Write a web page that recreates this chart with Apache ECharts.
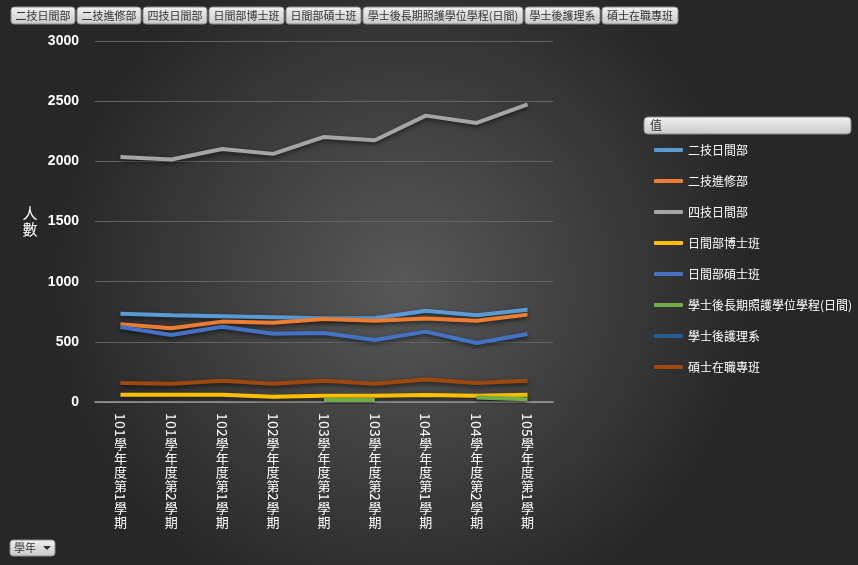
<!DOCTYPE html>
<html>
<head>
<meta charset="utf-8">
<script src="https://cdn.jsdelivr.net/npm/echarts@6/dist/echarts.min.js"></script>
<style>
html,body{margin:0;padding:0;background:#2a2a2a;}
#c{width:858px;height:565px;}
</style>
</head>
<body>
<div id="c"></div>
<script>
const categories = ['101學年度第1學期','101學年度第2學期','102學年度第1學期','102學年度第2學期','103學年度第1學期','103學年度第2學期','104學年度第1學期','104學年度第2學期','105學年度第1學期'];
const seriesNames = ['二技日間部','二技進修部','四技日間部','日間部博士班','日間部碩士班','學士後長期照護學位學程(日間)','學士後護理系','碩士在職專班'];
const v_erjiDay = [734, 720, 712, 704, 696, 696, 759, 720, 767];
const v_erjiNight = [646, 613, 668, 659, 690, 676, 693, 676, 726];
const v_sijiDay = [2035, 2015, 2102, 2062, 2203, 2175, 2380, 2319, 2474];
const v_phd = [61, 61, 61, 44, 52, 52, 58, 52, 61];
const v_master = [623, 557, 626, 568, 574, 515, 585, 490, 565];
const v_ltc = [null, null, null, null, 16, 16, null, 38, 22];
const v_postNursing = [null, null, null, null, null, null, null, null, null];
const v_inService = [158, 152, 177, 152, 177, 152, 186, 158, 177];
const yTicks = [0, 500, 1000, 1500, 2000, 2500, 3000];
const colors = ['#5B9BD5','#ED7D31','#A5A5A5','#FFC000','#4472C4','#70AD47','#255E91','#9E480E'];
const values = [v_erjiDay, v_erjiNight, v_sijiDay, v_phd, v_master, v_ltc, v_postNursing, v_inService];
const buttonX = [11, 77, 143, 209, 286, 363, 525, 602];
const buttonW = [64, 64, 64, 75, 75, 160, 75, 76];

const CJK_PITCH = 14, DIGIT_W = 8;
function isDigit(c){ return c >= '0' && c <= '9'; }
// upright CJK column; digits leave a gap of DIGIT_W each
function cjkColumn(s){
  const out = []; let run = 0;
  for (const ch of s) {
    if (isDigit(ch)) { run++; continue; }
    if (run) { out.push('{g' + run + '| }'); run = 0; }
    out.push('{c|' + ch + '}');
  }
  if (run) out.push('{g' + run + '| }');
  return out.join('\n');
}
// sideways digits; CJK chars leave a gap of CJK_PITCH each
function digitRow(s){
  let out = '';
  for (const ch of s) out += isDigit(ch) ? '{d|' + ch + '}' : '{s| }';
  return out;
}

const chart = echarts.init(document.getElementById('c'));
const btnFill = new echarts.graphic.LinearGradient(0,0,0,1,[{offset:0,color:'#f2f2f2'},{offset:1,color:'#c8c8c8'}]);
const graphics = [
  {type:'rect', z:-100, silent:true, shape:{x:0,y:0,width:858,height:565},
   style:{fill:new echarts.graphic.RadialGradient(0.47,0.5,0.62,[{offset:0,color:'#585858'},{offset:1,color:'#272727'}])}}
];
seriesNames.forEach((n,i)=>{
  graphics.push({type:'rect', shape:{x:buttonX[i],y:7,width:buttonW[i],height:17,r:3},
    style:{fill:btnFill, stroke:'#8a8a8a', lineWidth:1}});
  graphics.push({type:'text', x:buttonX[i]+buttonW[i]/2, y:16,
    style:{text:n, fill:'#333', font:'11px "Noto Sans CJK TC"', align:'center', verticalAlign:'middle'}});
});
graphics.push({type:'rect', shape:{x:644,y:117,width:207,height:17,r:4}, style:{fill:btnFill, stroke:'#8a8a8a', lineWidth:1}});
graphics.push({type:'text', x:650, y:125.5, style:{text:'值', fill:'#333', font:'12px "Noto Sans CJK TC"', align:'left', verticalAlign:'middle'}});
graphics.push({type:'rect', shape:{x:10,y:540,width:45,height:16,r:3}, style:{fill:btnFill, stroke:'#8a8a8a', lineWidth:1}});
graphics.push({type:'text', x:14, y:548, style:{text:'學年', fill:'#333', font:'11px "Noto Sans CJK TC"', align:'left', verticalAlign:'middle'}});
graphics.push({type:'polygon', shape:{points:[[43,546],[51,546],[47,550]]}, style:{fill:'#333'}});

const cjkRich = {
  c:{color:'#ffffff', fontSize:13, lineHeight:CJK_PITCH, fontFamily:'Noto Sans CJK TC'}
};
for (let k=1;k<=4;k++) cjkRich['g'+k] = {fontSize:2, lineHeight:k*DIGIT_W};
const digitRich = {
  d:{color:'#ffffff', fontSize:14, fontFamily:'Noto Sans CJK TC', width:DIGIT_W, align:'center'},
  s:{width:CJK_PITCH, fontSize:2}
};

chart.setOption({
  animation:false,
  color: colors,
  graphic: graphics,
  grid:{left:95, right:305, top:41, bottom:163},
  legend:{
    orient:'vertical', left:649, top:138,
    icon:'roundRect', itemWidth:29, itemHeight:4, itemGap:17,
    textStyle:{color:'#ffffff', fontSize:12, lineHeight:14, fontFamily:'Noto Sans CJK TC'},
    data: seriesNames
  },
  xAxis:[{
    type:'category', data:categories, boundaryGap:true,
    axisLine:{lineStyle:{color:'#a0a0a0', width:1.5}},
    axisTick:{show:false},
    axisLabel:{interval:0, margin:11, formatter: v => cjkColumn(v), rich:cjkRich, verticalAlign:'top', align:'center'}
  },{
    type:'category', data:categories, boundaryGap:true, position:'bottom',
    axisLine:{show:false}, axisTick:{show:false}, splitLine:{show:false},
    axisLabel:{rotate:-90, interval:0, margin:11, formatter: v => digitRow(v), rich:digitRich}
  }],
  yAxis:{
    type:'value', min:yTicks[0], max:yTicks[yTicks.length-1], interval:500,
    name:'人\n數', nameLocation:'middle', nameGap:65, nameRotate:0,
    nameTextStyle:{color:'#ffffff', fontSize:15, lineHeight:16, fontFamily:'Noto Sans CJK TC', align:'center'},
    axisLine:{show:false}, axisTick:{show:false},
    axisLabel:{color:'#ffffff', fontSize:14, fontWeight:'bold', fontFamily:'Liberation Sans', margin:16, formatter: v => String(v)},
    splitLine:{lineStyle:{color:'#636363', width:1}}
  },
  series: seriesNames.map((n,i)=>({
    name:n, type:'line', data:values[i], showSymbol:false, symbol:'none', connectNulls:false,
    lineStyle:{width:4, color:colors[i], shadowColor:'rgba(0,0,0,0.55)', shadowBlur:4, shadowOffsetY:2},
    itemStyle:{color:colors[i]}
  }))
});
</script>
</body>
</html>
